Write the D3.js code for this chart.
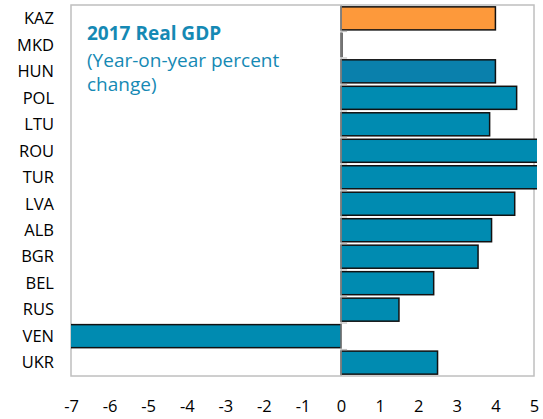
<!DOCTYPE html>
<html><head><meta charset="utf-8">
<script src="https://cdn.jsdelivr.net/npm/d3@7"></script>
<style>body{margin:0;background:#fff}svg{display:block}</style>
</head><body>
<svg id="c" width="543" height="419"></svg>
<script>
const categories = ["KAZ","MKD","HUN","POL","LTU","ROU","TUR","LVA","ALB","BGR","BEL","RUS","VEN","UKR"];
const values = [4.0, 0.02, 4.0, 4.55, 3.85, 7.0, 7.4, 4.5, 3.9, 3.55, 2.4, 1.5, -14.0, 2.5];
const highlight = ["KAZ"];
const xTicks = [-7,-6,-5,-4,-3,-2,-1,0,1,2,3,4,5];
const titleText = "2017 Real GDP";
const subtitleLines = ["(Year-on-year percent", "change)"];

const svg = d3.select("#c");
const L = 71, R = 534, T = 5, B = 376;
const x = d3.scaleLinear().domain([-7,5]).range([L,R]);
const y = d3.scaleBand().domain(categories).range([T,B]).paddingInner(0.13).paddingOuter(0.07);
const font = "'Open Sans','Noto Sans',sans-serif";

svg.append("defs").append("clipPath").attr("id","clip")
  .append("rect").attr("x",L).attr("y",T).attr("width",537-L).attr("height",B-T);

// frame
svg.append("rect").attr("x",L).attr("y",T).attr("width",R-L).attr("height",B-T)
  .attr("fill","none").attr("stroke","#bfbfbf").attr("stroke-width",1.5);

// bars
svg.append("g").attr("clip-path","url(#clip)").selectAll("rect").data(categories).join("rect")
  .attr("x",(d,i)=>x(Math.min(0,values[i])))
  .attr("y",d=>y(d))
  .attr("width",(d,i)=>Math.abs(x(values[i])-x(0)))
  .attr("height",y.bandwidth())
  .attr("fill",d=>highlight.includes(d)?"#fd993b":(d==="HUN"?"#0a80ac":"#008bb1"))
  .attr("stroke","#111").attr("stroke-width",1.5);

// zero axis
svg.append("line").attr("x1",x(0)).attr("x2",x(0)).attr("y1",T).attr("y2",B)
  .attr("stroke","#a6a6a6").attr("stroke-width",1.2);
svg.append("g").selectAll("line").data(d3.range(1,categories.length)).join("line")
  .attr("x1",x(0)).attr("x2",x(0)+6)
  .attr("y1",i=>T+(B-T)*i/categories.length).attr("y2",i=>T+(B-T)*i/categories.length)
  .attr("stroke","#bfbfbf").attr("stroke-width",1.2);

// category labels
svg.append("g").selectAll("text").data(categories).join("text")
  .attr("x",54).attr("y",d=>y(d)+y.bandwidth()/2)
  .attr("dy","0.35em").attr("text-anchor","end")
  .attr("font-family",font).attr("font-size",16.5).attr("fill","#000")
  .text(d=>d);

// x axis labels
const xAxis = d3.axisBottom(x).tickValues(xTicks).tickSize(0).tickPadding(0).tickFormat(d3.format("d"));
const ax = svg.append("g").attr("transform",`translate(0,${B+24})`).call(xAxis);
ax.select(".domain").remove();
ax.selectAll("text").attr("font-family",font).attr("font-size",16.5).attr("fill","#000")
  .text(d=>d<0?"-"+Math.abs(d):d);

// title
svg.append("text").attr("x",87).attr("y",40).attr("font-family",font)
  .attr("font-size",19).attr("font-weight","bold").attr("fill","#1589b4").text(titleText);
svg.append("g").selectAll("text").data(subtitleLines).join("text")
  .attr("x",87).attr("y",(d,i)=>67+i*24).attr("font-family",font)
  .attr("font-size",19).attr("fill","#1589b4").text(d=>d);
</script>
</body></html>
